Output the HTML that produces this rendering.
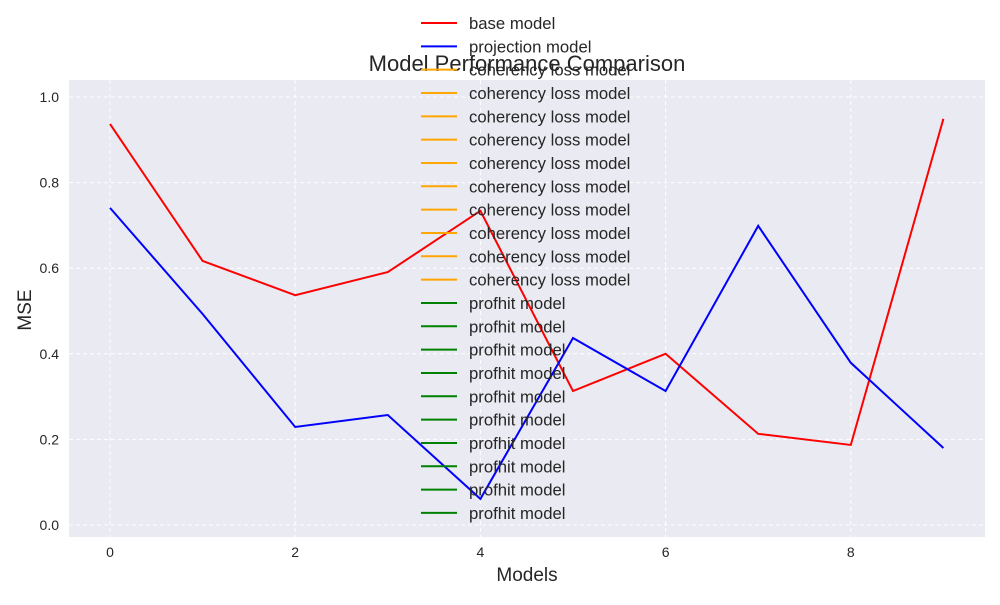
<!DOCTYPE html>
<html><head><meta charset="utf-8"><style>
body{margin:0;background:#fff;font-family:"Liberation Sans","DejaVu Sans",sans-serif;}
</style></head><body>
<svg id="c" width="1000" height="600" xmlns="http://www.w3.org/2000/svg"></svg>
<script>
const categories=[0,1,2,3,4,5,6,7,8,9];
const baseValues=[0.937,0.617,0.537,0.591,0.734,0.313,0.40,0.213,0.187,0.949];
const projValues=[0.741,0.493,0.229,0.257,0.061,0.437,0.313,0.699,0.379,0.180];
const xTicks=[0,2,4,6,8];
const yTicks=[0.0,0.2,0.4,0.6,0.8,1.0];
const legendLabels=["base model","projection model"].concat(Array(10).fill("coherency loss model"),Array(10).fill("profhit model"));
const legendColors=["red","blue"].concat(Array(10).fill("orange"),Array(10).fill("green"));
const NS="http://www.w3.org/2000/svg";
const svg=document.getElementById('c');
function mk(t,a,p){const e=document.createElementNS(NS,t);for(const k in a)e.setAttribute(k,a[k]);(p||svg).appendChild(e);return e;}
const X=v=>110+v*92.6, Y=v=>525-v*428;
const bg=mk('rect',{x:69,y:80,width:916,height:457,fill:'#eaeaf2'});


xTicks.forEach(t=>{
  const l=mk('line',{x1:X(t),x2:X(t),y1:80,y2:537,stroke:'#fff','stroke-dasharray':'4,3'});
  
  
  const tx=mk('text',{x:X(t),y:557,'text-anchor':'middle','font-size':14,fill:'#262626'});tx.textContent=t;
  
  
});
yTicks.forEach(t=>{
  const l=mk('line',{x1:69,x2:985,y1:Y(t),y2:Y(t),stroke:'#fff','stroke-dasharray':'4,3'});
  
  
  const tx=mk('text',{x:59,y:Y(t)+5,'text-anchor':'end','font-size':14,fill:'#262626'});tx.textContent=t.toFixed(1);
  
  
});
function series(vals,col,name){
  const p=mk('polyline',{points:vals.map((v,i)=>X(categories[i])+','+Y(v)).join(' '),fill:'none',stroke:col,'stroke-width':2});
  
  
}
series(baseValues,'red','base-model-line');
series(projValues,'blue','projection-model-line');
const ti=mk('text',{x:527,y:71,'text-anchor':'middle','font-size':22,fill:'#262626'});ti.textContent='Model Performance Comparison';


const xl=mk('text',{x:527,y:581,'text-anchor':'middle','font-size':19,fill:'#262626'});xl.textContent='Models';


const yl=mk('text',{x:31,y:310,'text-anchor':'middle','font-size':19,fill:'#262626',transform:'rotate(-90 31 310)'});yl.textContent='MSE';


legendLabels.forEach((lab,i)=>{
  const y=23+i*23.33;
  const g=mk('g',{});
  
  
  mk('line',{x1:421,x2:457,y1:y,y2:y,stroke:legendColors[i],'stroke-width':2},g);
  const t=mk('text',{x:469,y:y+6,'font-size':16.7,fill:'#262626'},g);t.textContent=lab;
});
</script>
</body></html>
